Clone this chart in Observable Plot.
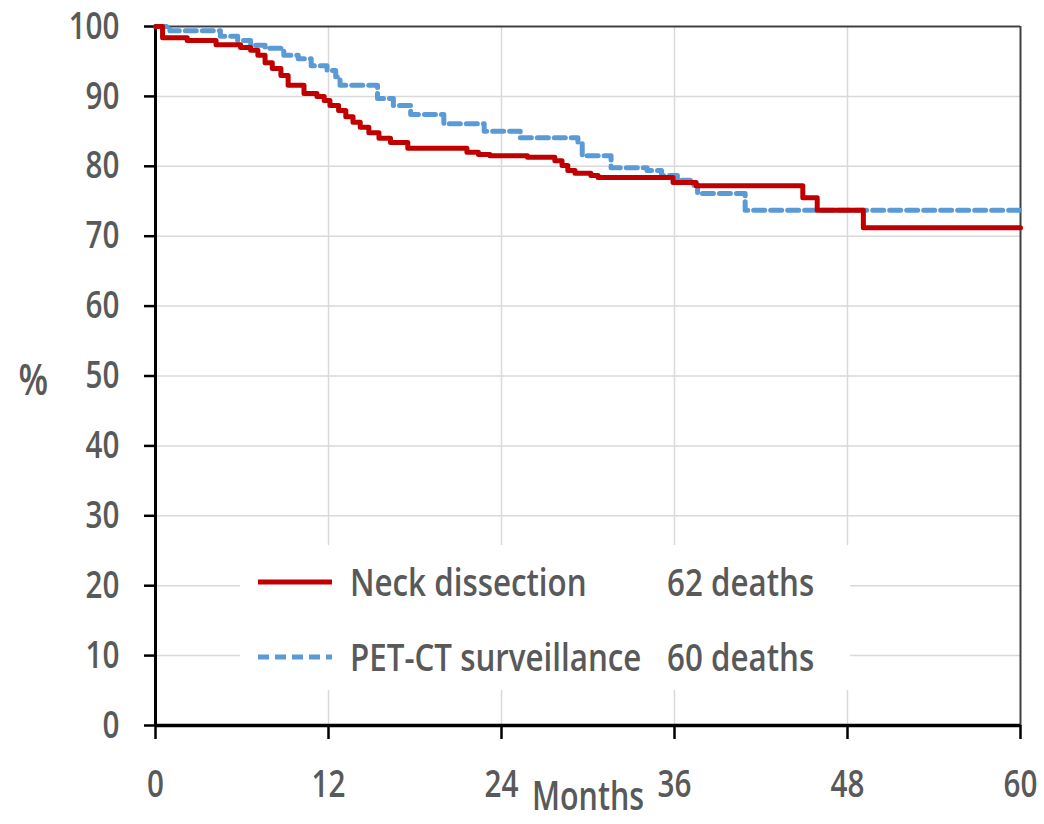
<!DOCTYPE html>
<html>
<head>
<meta charset="utf-8">
<script src="https://cdn.jsdelivr.net/npm/d3@7"></script>
<script src="https://cdn.jsdelivr.net/npm/@observablehq/plot@0.6"></script>
<style>
  html, body { margin: 0; padding: 0; background: #fff; }
  #wrap { position: relative; width: 1044px; height: 824px; font-family: "Open Sans", sans-serif; font-weight: 600; color: #595959; }
  #legend { position: absolute; left: 240px; top: 545px; width: 610px; height: 145px; background: #fff; }
  .sw { position: absolute; left: 18px; width: 74px; height: 10px; }
  .lt { position: absolute; font-size: 37.5px; line-height: 40px; white-space: nowrap; transform: scaleX(0.835); transform-origin: left center; }
</style>
</head>
<body>
<div id="wrap"></div>
<script>
// Kaplan-Meier step data: month of each step and survival % after it
const neckMonths = [0, 0.49, 2.2, 4.2, 5.9, 6.6, 7.1, 7.6, 8.1, 8.7, 9.2, 10.3, 11.2, 11.7, 12.1, 12.7, 13.2, 13.7, 14.2, 14.8, 15.5, 16.3, 17.5, 21.6, 22.4, 23.2, 25.8, 27.7, 28.2, 28.6, 29.1, 30.2, 30.7, 35.9, 37.5, 44.9, 45.9, 49.1, 60];
const neckSurv   = [100, 98.4, 98.0, 97.4, 97.0, 96.6, 95.9, 94.8, 94.0, 93.0, 91.6, 90.4, 90.0, 89.4, 88.7, 88.0, 87.1, 86.3, 85.6, 84.8, 84.0, 83.4, 82.6, 82.0, 81.7, 81.5, 81.3, 80.8, 80.1, 79.4, 79.0, 78.7, 78.4, 77.7, 77.2, 75.5, 73.7, 71.2, 71.2];
const petMonths  = [0, 1.0, 4.5, 5.7, 6.6, 7.6, 8.9, 9.9, 10.8, 11.9, 12.5, 12.8, 15.4, 16.5, 17.7, 20.0, 22.8, 25.3, 29.3, 29.6, 31.6, 34.1, 35.1, 36.2, 37.1, 37.6, 40.9, 60];
const petSurv    = [100, 99.4, 98.6, 98.0, 97.3, 96.9, 95.9, 95.4, 94.4, 93.7, 92.8, 91.6, 89.7, 88.7, 87.4, 86.1, 85.0, 84.1, 83.3, 81.5, 79.8, 79.4, 78.7, 78.0, 77.3, 76.1, 73.7, 73.7];

const seriesNames = ["Neck dissection", "PET-CT surveillance"];
const seriesDeaths = ["62 deaths", "60 deaths"];
const yTicks = [0, 10, 20, 30, 40, 50, 60, 70, 80, 90, 100];
const xTicks = [0, 12, 24, 36, 48, 60];

const neck = neckMonths.map((m, i) => ({month: m, surv: neckSurv[i]}));
const pet = petMonths.map((m, i) => ({month: m, surv: petSurv[i]}));

const chart = Plot.plot({
  width: 1044,
  height: 824,
  marginLeft: 155,
  marginRight: 24,
  marginTop: 26,
  marginBottom: 99,
  style: {fontFamily: '"Open Sans", sans-serif', fontWeight: 600, fontSize: "38px", color: "#595959", background: "#fff", overflow: "visible"},
  x: {domain: [0, 60]},
  y: {domain: [0, 100]},
  marks: [
    Plot.gridY(yTicks.filter(d => d > 0 && d < 100), {stroke: "#d9d9d9", strokeOpacity: 1, strokeWidth: 1.5}),
    Plot.gridX(xTicks.filter(d => d > 0 && d < 60), {stroke: "#d9d9d9", strokeOpacity: 1, strokeWidth: 1.5}),
    Plot.ruleY([100], {stroke: "#404040", strokeWidth: 2}),
    Plot.ruleX([60], {stroke: "#404040", strokeWidth: 2}),
    Plot.axisY({ticks: yTicks, tickSize: 11, tickPadding: 25, stroke: "#000", strokeWidth: 2.5, fill: "#595959", label: null, fontSize: 38}),
    Plot.axisX({ticks: xTicks, tickSize: 14, tickPadding: 31, stroke: "#000", strokeWidth: 2.5, fill: "#595959", label: null, fontSize: 38}),
    Plot.ruleX([0], {stroke: "#000", strokeWidth: 3}),
    Plot.ruleY([0], {stroke: "#000", strokeWidth: 3.5}),
    Plot.line(pet, {x: "month", y: "surv", curve: "step-after", stroke: "#5b9bd5", strokeWidth: 5, strokeDasharray: "11,6"}),
    Plot.line(neck, {x: "month", y: "surv", curve: "step-after", stroke: "#c00000", strokeWidth: 5}),
    Plot.text(["%"], {frameAnchor: "left", dx: -137, dy: 5, fontSize: 44, fill: "#595959"}),
    Plot.text(["Months"], {frameAnchor: "bottom", dy: 84, fontSize: 39, fill: "#595959"})
  ]
});

// narrow the glyphs horizontally (the original uses a condensed face)
chart.querySelectorAll("text").forEach(t => {
  const x = +(t.getAttribute("x") || 0);
  const tr = t.getAttribute("transform") || "";
  t.setAttribute("transform", `${tr} translate(${x},0) scale(0.78,1) translate(${-x},0)`);
});

const wrap = document.getElementById("wrap");
wrap.appendChild(chart);

const legend = document.createElement("div");
legend.id = "legend";
const styles = [
  {stroke: "#c00000", dash: null},
  {stroke: "#5b9bd5", dash: "11,6"}
];
seriesNames.forEach((name, i) => {
  const top = i === 0 ? 17 : 92;
  const sw = document.createElementNS("http://www.w3.org/2000/svg", "svg");
  sw.setAttribute("class", "sw");
  sw.setAttribute("viewBox", "0 0 74 10");
  sw.style.top = (top + 15) + "px";
  sw.innerHTML = `<line x1="0" y1="5" x2="74" y2="5" stroke="${styles[i].stroke}" stroke-width="5" ${styles[i].dash ? `stroke-dasharray="${styles[i].dash}"` : ""}/>`;
  legend.appendChild(sw);
  const n = document.createElement("span");
  n.className = "lt"; n.textContent = name;
  n.style.left = "110px"; n.style.top = top + "px";
  legend.appendChild(n);
  const d = document.createElement("span");
  d.className = "lt"; d.textContent = seriesDeaths[i];
  d.style.left = "427px"; d.style.top = top + "px";
  legend.appendChild(d);
});
wrap.appendChild(legend);
</script>
</body>
</html>
